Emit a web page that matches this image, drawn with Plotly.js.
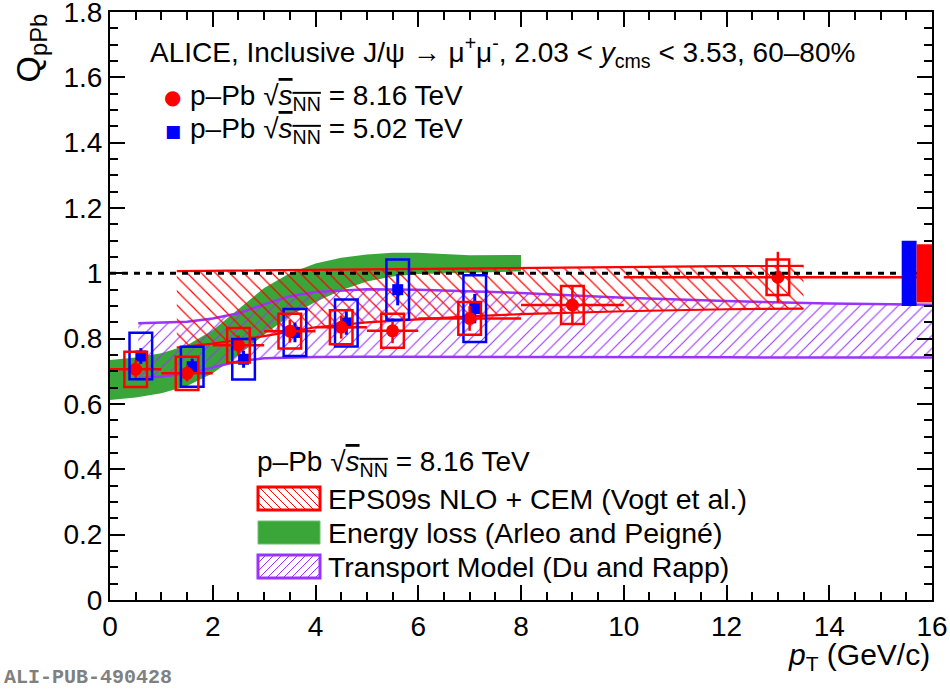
<!DOCTYPE html>
<html>
<head>
<meta charset="utf-8">
<script src="https://cdn.plot.ly/plotly-3.0.1.min.js"></script>
<style>
  html, body { margin: 0; padding: 0; background: #fff; }
  #plotDiv { width: 950px; height: 689px; }
</style>
</head>
<body>
<div id="plotDiv"></div>
<script>
// ALICE J/psi Q_pPb, 60-80% centrality

// p-Pb 8.16 TeV
const pt816 = [0.5, 1.5, 2.5, 3.5, 4.5, 5.5, 7, 9, 13];
const binHalf816 = [0.5, 0.5, 0.5, 0.5, 0.5, 0.5, 1, 1, 3];
const q816 = [0.706, 0.694, 0.780, 0.823, 0.835, 0.824, 0.862, 0.903, 0.988];
const stat816 = [0.028, 0.025, 0.030, 0.035, 0.035, 0.038, 0.038, 0.055, 0.078];
const syst816 = [0.054, 0.051, 0.053, 0.053, 0.052, 0.052, 0.050, 0.058, 0.054];

// p-Pb 5.02 TeV
const pt502 = [0.6, 1.6, 2.6, 3.6, 4.6, 5.6, 7.1];
const q502 = [0.747, 0.714, 0.737, 0.819, 0.848, 0.950, 0.892];
const stat502 = [0.024, 0.025, 0.026, 0.030, 0.036, 0.048, 0.045];
const syst502 = [0.071, 0.061, 0.062, 0.072, 0.072, 0.092, 0.102];

// global (correlated) uncertainties: [5.02, 8.16]
const globalUnc = [0.100, 0.089];

// EPS09s NLO + CEM (Vogt et al.)
const epsPt = [1.3, 2, 3, 4, 5, 6, 7, 8, 10, 12, 13.5];
const epsHi = [1.007, 1.008, 1.010, 1.012, 1.014, 1.015, 1.017, 1.018, 1.020, 1.022, 1.023];
const epsLo = [0.773, 0.785, 0.808, 0.835, 0.850, 0.860, 0.868, 0.875, 0.884, 0.890, 0.892];

// Energy loss (Arleo and Peigne)
const elossPt = [0, 0.5, 1, 1.5, 2, 2.5, 3, 3.5, 4, 4.5, 5, 5.5, 6, 7, 8];
const elossHi = [0.735, 0.742, 0.755, 0.780, 0.826, 0.890, 0.955, 1.000, 1.030, 1.048, 1.058, 1.063, 1.063, 1.055, 1.056];
const elossLo = [0.612, 0.620, 0.633, 0.655, 0.694, 0.750, 0.812, 0.870, 0.912, 0.948, 0.975, 0.990, 0.998, 1.002, 1.006];

// Transport model (Du and Rapp)
const trPt = [0.55, 1, 1.5, 2, 2.5, 3, 3.5, 4, 5, 6, 7, 8, 10, 12, 14, 16];
const trHi = [0.847, 0.849, 0.852, 0.862, 0.878, 0.905, 0.930, 0.943, 0.951, 0.950, 0.945, 0.940, 0.925, 0.915, 0.908, 0.904];
const trLo = [0.679, 0.684, 0.693, 0.712, 0.731, 0.740, 0.743, 0.744, 0.745, 0.745, 0.745, 0.745, 0.744, 0.743, 0.742, 0.742];

const RED = "#ff0000";
const BLUE = "#0000ff";
const GREEN = "#3aa63a";
const VIOLET = "#9933ff";
const FONT = "Liberation Sans, Arial, sans-serif";

const boxHalf = 0.22;

function band(x, hi, lo) {
  return {
    x: x.concat(x.slice().reverse()),
    y: hi.concat(lo.slice().reverse()),
  };
}

let traces = [];

// energy loss band
let eb = band(elossPt, elossHi, elossLo);
traces.push({
  x: eb.x, y: eb.y, type: "scatter", mode: "lines", fill: "toself",
  fillcolor: GREEN, line: { width: 0 }, hoverinfo: "skip",
});

// transport band
let tb = band(trPt, trHi, trLo);
traces.push({
  x: tb.x, y: tb.y, type: "scatter", mode: "lines", fill: "toself",
  fillcolor: "rgba(0,0,0,0)", line: { width: 0 },
  fillpattern: { shape: "/", fgcolor: VIOLET, bgcolor: "rgba(0,0,0,0)", size: 9, solidity: 0.12 },
});
traces.push({ x: trPt, y: trHi, type: "scatter", mode: "lines", line: { color: VIOLET, width: 2.5 } });
traces.push({ x: trPt, y: trLo, type: "scatter", mode: "lines", line: { color: VIOLET, width: 2.5 } });

// EPS09 band
let pb = band(epsPt, epsHi, epsLo);
traces.push({
  x: pb.x, y: pb.y, type: "scatter", mode: "lines", fill: "toself",
  fillcolor: "rgba(0,0,0,0)", line: { width: 0 },
  fillpattern: { shape: "\\", fgcolor: RED, bgcolor: "rgba(0,0,0,0)", size: 10, solidity: 0.12 },
});
traces.push({ x: epsPt, y: epsHi, type: "scatter", mode: "lines", line: { color: RED, width: 2.2 } });
traces.push({ x: epsPt, y: epsLo, type: "scatter", mode: "lines", line: { color: RED, width: 2.2 } });

// data points
traces.push({
  x: pt502, y: q502, type: "scatter", mode: "markers",
  marker: { symbol: "square", size: 11, color: BLUE },
  error_y: { type: "data", array: stat502, color: BLUE, thickness: 3, width: 0 },
});
traces.push({
  x: pt816, y: q816, type: "scatter", mode: "markers",
  marker: { symbol: "circle", size: 13, color: RED },
  error_x: { type: "data", array: binHalf816, color: RED, thickness: 2.5, width: 0 },
  error_y: { type: "data", array: stat816, color: RED, thickness: 2.5, width: 0 },
});

// shapes: unity line, systematic boxes, global boxes
let shapes = [
  {
    type: "line", xref: "x", yref: "y", x0: 0, x1: 16, y0: 1, y1: 1,
    line: { color: "black", width: 3, dash: "6px,6px" },
  },
];
pt502.forEach((x, i) => {
  shapes.push({
    type: "rect", xref: "x", yref: "y",
    x0: x - boxHalf, x1: x + boxHalf, y0: q502[i] - syst502[i], y1: q502[i] + syst502[i],
    line: { color: BLUE, width: 2.5 }, fillcolor: "rgba(0,0,0,0)",
  });
});
pt816.forEach((x, i) => {
  shapes.push({
    type: "rect", xref: "x", yref: "y",
    x0: x - boxHalf, x1: x + boxHalf, y0: q816[i] - syst816[i], y1: q816[i] + syst816[i],
    line: { color: RED, width: 2.5 }, fillcolor: "rgba(0,0,0,0)",
  });
});
shapes.push({
  type: "rect", xref: "x", yref: "y", x0: 15.41, x1: 15.7,
  y0: 1 - globalUnc[0], y1: 1 + globalUnc[0],
  line: { width: 0 }, fillcolor: BLUE,
});
shapes.push({
  type: "rect", xref: "x", yref: "y", x0: 15.7, x1: 16,
  y0: 1 - globalUnc[1], y1: 1 + globalUnc[1],
  line: { width: 0 }, fillcolor: RED,
});

// pixel -> paper helpers (plot area 110..932 x 12..600)
const px = (v) => (v - 110) / 822;
const py = (v) => (600 - v) / 588;

// legend swatches: box outline plus 45 degree hatch, clipped by hand
function swatchShapes(left, top, color, kind) {
  const W = 62, H = 23, step = 8;
  let out = [];
  if (kind === "solid") {
    out.push({
      type: "rect", xref: "paper", yref: "paper",
      x0: px(left), x1: px(left + W), y0: py(top + H), y1: py(top),
      line: { color: "#6cc26c", width: 1 }, fillcolor: color,
    });
    return out;
  }
  let d = "";
  for (let c = -H; c < W; c += step) {
    let t0 = Math.max(0, -c), t1 = Math.min(H, W - c);
    if (t1 <= t0) continue;
    let xa = left + c + t0, xb = left + c + t1;
    let ya, yb;
    if (kind === "back") { ya = top + t0; yb = top + t1; }
    else { ya = top + H - t0; yb = top + H - t1; }
    d += "M" + px(xa) + "," + py(ya) + "L" + px(xb) + "," + py(yb);
  }
  out.push({ type: "path", xref: "paper", yref: "paper", path: d, line: { color: color, width: 1 } });
  out.push({
    type: "rect", xref: "paper", yref: "paper",
    x0: px(left), x1: px(left + W), y0: py(top + H), y1: py(top),
    line: { color: color, width: 3 }, fillcolor: "rgba(0,0,0,0)",
  });
  return out;
}
shapes = shapes
  .concat(swatchShapes(258, 487, RED, "back"))
  .concat(swatchShapes(258, 521, GREEN, "solid"))
  .concat(swatchShapes(258, 555, VIOLET, "fwd"));

const sqrtS = "√<span style='text-decoration:overline'><i>s</i><sub>NN</sub></span>";

function txt(text, x, y, size, extra) {
  return Object.assign({
    text: text, xref: "paper", yref: "paper", x: x, y: y,
    xanchor: "left", yanchor: "middle", showarrow: false,
    font: { family: FONT, size: size, color: "black" },
  }, extra || {});
}

let annotations = [
  txt("ALICE, Inclusive J/ψ → μ<sup>+</sup>μ<sup>-</sup>, 2.03 &lt; <i>y</i><sub>cms</sub> &lt; 3.53, 60–80%", px(148), py(52), 28),
  txt("●", px(162), py(97), 20, { font: { family: "DejaVu Sans", size: 20, color: RED } }),
  txt("p–Pb " + sqrtS + " = 8.16 TeV", px(188), py(97), 28),
  txt("■", px(163), py(131), 17, { font: { family: "DejaVu Sans", size: 17, color: BLUE } }),
  txt("p–Pb " + sqrtS + " = 5.02 TeV", px(188), py(131), 28),
  txt("p–Pb " + sqrtS + " = 8.16 TeV", px(255), py(463), 28),
  txt("EPS09s NLO + CEM (Vogt et al.)", px(326), py(499), 28.5),
  txt("Energy loss (Arleo and Peigné)", px(326), py(533), 28.5),
  txt("Transport Model (Du and Rapp)", px(326), py(567), 28.5),
  txt("<i>p</i><sub>T</sub> (GeV/c)", 1, py(656), 30, { xanchor: "right" }),
  txt("Q<sub>pPb</sub>", px(30), 1.0, 34, { xanchor: "center", yanchor: "top", textangle: -90 }),
  txt("<b>ALI-PUB-490428</b>", px(2), py(677), 20, {
    font: { family: "Liberation Mono, monospace", size: 20, color: "#808080" },
  }),
];

const axisCommon = {
  showline: true, linecolor: "black", linewidth: 2, mirror: "allticks",
  ticks: "inside", ticklen: 15, tickwidth: 2, tickcolor: "black",
  showgrid: false, zeroline: false, ticklabeloverflow: "allow",
  tickfont: { family: FONT, size: 28, color: "black" },
};

let layout = {
  width: 950, height: 689,
  margin: { l: 110, r: 18, t: 12, b: 89 },
  paper_bgcolor: "white", plot_bgcolor: "white",
  showlegend: false,
  xaxis: Object.assign({}, axisCommon, {
    range: [0, 16], tick0: 0, dtick: 2,
    minor: { dtick: 0.5, ticks: "inside", ticklen: 8, tickwidth: 2, tickcolor: "black" },
  }),
  yaxis: Object.assign({}, axisCommon, {
    range: [0, 1.800001], tick0: 0, dtick: 0.2,
    minor: { dtick: 0.05, ticks: "inside", ticklen: 8, tickwidth: 2, tickcolor: "black" },
  }),
  shapes: shapes,
  annotations: annotations,
};

Plotly.newPlot("plotDiv", traces, layout, { staticPlot: true });
</script>
</body>
</html>
